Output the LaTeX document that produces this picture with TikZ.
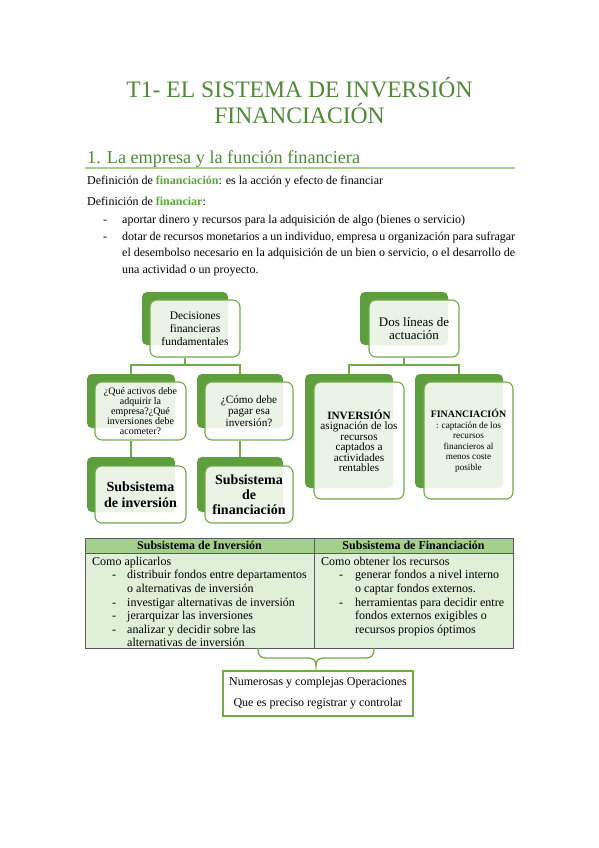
\documentclass[tikz,border=0pt]{standalone}
\usepackage{fontspec}
\setmainfont{Liberation Serif}
\definecolor{ttl}{HTML}{4E8A36}
\definecolor{gw}{HTML}{5BA83A}
\definecolor{rule}{HTML}{A8D08D}
\definecolor{bk}{HTML}{5E9E3E}
\definecolor{fr}{HTML}{70AD47}
\definecolor{hdr}{HTML}{A3D08C}
\definecolor{bdy}{HTML}{E0F0D8}
\definecolor{tb}{HTML}{5A5A5A}
\begin{document}
\begin{tikzpicture}[x=1pt,y=-1pt,
  back/.style={fill=bk, rounded corners=5pt, inner sep=0pt},
  front/.style={draw=fr, line width=1.1pt, fill=white, fill opacity=0.88, text opacity=1, rounded corners=7pt, align=center, inner sep=0pt},
  conn/.style={draw=fr, line width=1.1pt},
  txt/.style={anchor=base west, inner sep=0pt, font=\fontsize{12}{14}\selectfont},
  ctxt/.style={anchor=base, inner sep=0pt, font=\fontsize{12}{14}\selectfont}
]
\useasboundingbox (0,0) rectangle (599,848);
\fill[white] (0,0) rectangle (599,848);

% title
\node[anchor=base, inner sep=0pt, text=ttl, font=\fontsize{23.6}{28}\selectfont] (title1) at (299.5,98) {T1- EL SISTEMA DE INVERSIÓN};
\node[anchor=base, inner sep=0pt, text=ttl, font=\fontsize{23.6}{28}\selectfont] (title2) at (299.5,123.5) {FINANCIACIÓN};
\node[anchor=base west, inner sep=0pt, text=ttl, font=\fontsize{18.2}{22}\selectfont] (head) at (87,163.5) {1. La empresa y la función financiera};
\coordinate (rl) at (85,168);
\coordinate (rr) at (515,168);
\draw[rule, line width=1.1pt] (rl) -- (rr);

% body text
\node[txt] (d1) at (87,184) {Definición de \textcolor{gw}{\bfseries financiación}: es la acción y efecto de financiar};
\node[txt] (d2) at (87,205) {Definición de \textcolor{gw}{\bfseries financiar}:};
\node[txt] (b1) at (103,223.5) {-};
\node[txt] (l1) at (122,223.5) {aportar dinero y recursos para la adquisición de algo (bienes o servicio)};
\node[txt] (b2) at (103,240) {-};
\node[txt] (l2) at (122,240) {\makebox[393pt][s]{dotar de recursos monetarios a un individuo, empresa u organización para sufragar}};
\node[txt] (l3) at (122,256.5) {\makebox[393pt][s]{el desembolso necesario en la adquisición de un bien o servicio, o el desarrollo de}};
\node[txt] (l4) at (122,273) {una actividad o un proyecto.};

% left tree back shapes
\node[back, minimum width=86pt, minimum height=53pt] (tlb) at (185,318.5) {};
\node[back, minimum width=88pt, minimum height=54pt] (q1b) at (131,401) {};
\node[back, minimum width=86pt, minimum height=54pt] (q2b) at (240,401) {};
\node[back, minimum width=88pt, minimum height=55pt] (s1b) at (131,484.5) {};
\node[back, minimum width=86pt, minimum height=55pt] (s2b) at (240,484.5) {};
% right tree back shapes
\node[back, minimum width=88pt, minimum height=53pt] (trb) at (404,318.5) {};
\node[back, minimum width=88pt, minimum height=114pt] (invb) at (349,431) {};
\node[back, minimum width=88pt, minimum height=114pt] (finb) at (459,431) {};

% front shapes
\node[front, minimum width=90pt, minimum height=57pt, font=\fontsize{11.5}{13}\selectfont] (tl) at (195,328.5) {Decisiones\\financieras\\fundamentales};
\node[front, minimum width=91pt, minimum height=58pt, font=\fontsize{10}{10}\selectfont] (q1) at (140.5,411) {¿Qué activos debe\\adquirir la\\empresa?¿Qué\\inversiones debe\\acometer?};
\node[front, minimum width=88pt, minimum height=58pt, font=\fontsize{11.2}{11.5}\selectfont] (q2) at (249,411) {¿Cómo debe\\pagar esa\\inversión?};
\node[front, minimum width=91pt, minimum height=57pt, font=\fontsize{14}{16}\selectfont\bfseries] (s1) at (140.5,494.5) {Subsistema\\de inversión};
\node[front, minimum width=88pt, minimum height=57pt, font=\fontsize{14}{15}\selectfont\bfseries] (s2) at (249,494.5) {Subsistema\\de\\financiación};
\node[front, minimum width=90pt, minimum height=57pt, font=\fontsize{13}{13.5}\selectfont] (tr) at (414,328.5) {Dos líneas de\\actuación};
\node[front, minimum width=90pt, minimum height=117pt, font=\fontsize{11.2}{10.5}\selectfont] (inv) at (359,440.5) {\textbf{INVERSIÓN}\\asignación de los\\recursos\\captados a\\actividades\\rentables};
\node[front, minimum width=89pt, minimum height=117pt, font=\fontsize{9.2}{10.5}\selectfont] (fin) at (468.5,440.5) {{\fontsize{9.9}{10.5}\selectfont\bfseries FINANCIACIÓN}\\: captación de los\\recursos\\financieros al\\menos coste\\posible};

% connectors left tree
\coordinate (jl) at (185,365);
\draw[conn] (tlb.south |- tl.south) -- (jl);
\draw[conn] (q1b.north) |- (jl) -| (q2b.north);
\draw[conn] (q1b.south |- q1.south) -- (s1b.north);
\draw[conn] (q2b.south |- q2.south) -- (s2b.north);
% connectors right tree
\coordinate (jr) at (404,365);
\draw[conn] (trb.south |- tr.south) -- (jr);
\draw[conn] (invb.north) |- (jr) -| (finb.north);

% table
\fill[hdr] (85,538) rectangle (513,553);
\fill[bdy] (85,553) rectangle (513,648);
\draw[tb, line width=0.8pt] (85,538) rectangle (513,648);
\draw[tb, line width=0.8pt] (85,553) -- (513,553);
\draw[tb, line width=0.8pt] (314,538) -- (314,648);
\node[ctxt, font=\fontsize{12}{14}\selectfont\bfseries] (h1) at (199.5,549.5) {Subsistema de Inversión};
\node[ctxt, font=\fontsize{12}{14}\selectfont\bfseries] (h2) at (413.5,549.5) {Subsistema de Financiación};

\node[txt] (c1) at (92,565) {Como aplicarlos};
\node[txt] (c1b1) at (112,578.5) {-};
\node[txt] (c1l1) at (127,578.5) {distribuir fondos entre departamentos};
\node[txt] (c1l2) at (127,592) {o alternativas de inversión};
\node[txt] (c1b2) at (112,606) {-};
\node[txt] (c1l3) at (127,606) {investigar alternativas de inversión};
\node[txt] (c1b3) at (112,619.5) {-};
\node[txt] (c1l4) at (127,619.5) {jerarquizar las inversiones};
\node[txt] (c1b4) at (112,633) {-};
\node[txt] (c1l5) at (127,633) {analizar y decidir sobre las};
\node[txt] (c1l6) at (127,646.5) {alternativas de inversión};

\node[txt] (c2) at (321,565) {Como obtener los recursos};
\node[txt] (c2b1) at (339,578.5) {-};
\node[txt] (c2l1) at (355,578.5) {generar fondos a nivel interno};
\node[txt] (c2l2) at (355,592) {o captar fondos externos.};
\node[txt] (c2b2) at (339,606) {-};
\node[txt] (c2l3) at (355,606) {herramientas para decidir entre};
\node[txt] (c2l4) at (355,619.5) {fondos externos exigibles o};
\node[txt] (c2l5) at (355,633) {recursos propios óptimos};

% brace
\draw[fr, line width=1.3pt] (258,648) .. controls (258,656) and (260,658) .. (268,658) -- (306,658) .. controls (314,658) and (316,660) .. (316,666) .. controls (316,660) and (318,658) .. (326,658) -- (364,658) .. controls (372,658) and (374,656) .. (374,648);

% operations box
\node[draw=fr, line width=1.2pt, minimum width=190pt, minimum height=45pt, inner sep=0pt] (ops) at (318,693.5) {};
\node[ctxt] (ops1) at (318,685) {Numerosas y complejas Operaciones};
\node[ctxt] (ops2) at (318,706) {Que es preciso registrar y controlar};
\end{tikzpicture}
\end{document}
